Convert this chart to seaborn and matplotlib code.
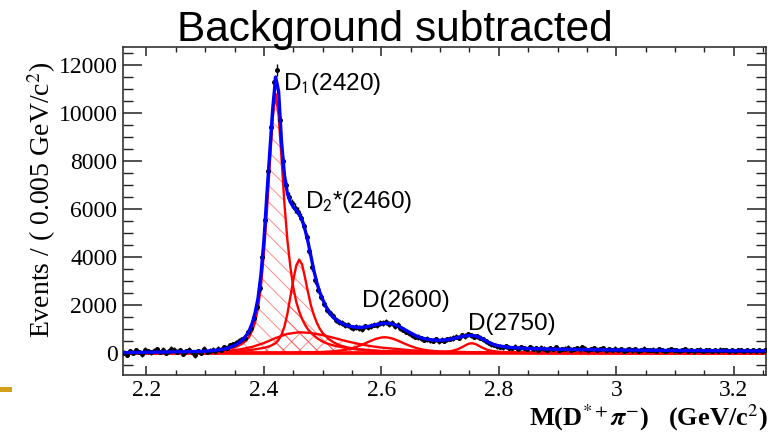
import numpy as np
import matplotlib
matplotlib.use("Agg")
import matplotlib.pyplot as plt
from matplotlib.ticker import MultipleLocator, FuncFormatter
from matplotlib.patches import Rectangle
import seaborn as sns

# ---------------- data ----------------
# histogram bins: 0.005 GeV wide, centres from 2.1625 to 3.2525
bin_start = 2.1625
bin_width = 0.005
counts = [
    30, -60, 80, 20, 120, 60, -40, 150, 90, 40,
    110, 180, 60, 140, 20, 90, 200, 150, 70, 120,
    -30, 80, 160, 40, -80, 100, 30, 190, 60, 110,
    150, 90, 200, 160, 250, 240, 330, 380, 450, 520,
    580, 660, 870, 1050, 1480, 1950, 2700, 4000, 5550, 7600,
    9400, 11300, 11800, 9700, 8000, 7000, 6500, 6250, 6050, 5900,
    5650, 5300, 4850, 4250, 3600, 3050, 2650, 2350, 2050, 1820,
    1680, 1550, 1400, 1320, 1250, 1180, 1180, 1080, 1060, 1100,
    1050, 1010, 1120, 1080, 1150, 1200, 1180, 1270, 1250, 1310,
    1220, 1250, 1150, 1170, 1050, 990, 900, 830, 770, 700,
    680, 620, 570, 600, 540, 520, 580, 510, 560, 520,
    580, 600, 640, 700, 660, 750, 720, 800, 760, 700,
    720, 650, 580, 500, 430, 380, 350, 300, 280, 250,
    300, 240, 220, 280, 200, 250, 230, 180, 260, 200,
    220, 160, 240, 200, 150, 210, 190, 250, 160, 180,
    200, 240, 150, 180, 220, 170, 260, 200, 140, 190,
    210, 160, 180, 230, 120, 170, 150, 200, 140, 180,
    110, 160, 190, 130, 170, 100, 150, 200, 120, 140,
    160, 110, 180, 130, 90, 150, 170, 120, 140, 100,
    130, 170, 110, 150, 80, 140, 160, 100, 120, 150,
    100, 140, 90, 160, 120, 130, 80, 150, 110, 140,
    120, 90, 150, 110, 130, 100, 140, 80, 120,
]
errors = [
    100, 95, 100, 105, 100, 95, 100, 105, 100, 95,
    100, 95, 100, 105, 100, 95, 100, 105, 100, 95,
    100, 95, 100, 105, 100, 95, 100, 105, 100, 95,
    100, 100, 102, 102, 104, 104, 106, 106, 108, 108,
    110, 115, 120, 125, 135, 145, 160, 175, 195, 215,
    235, 250, 255, 240, 220, 205, 195, 190, 188, 185,
    182, 178, 172, 165, 158, 150, 145, 140, 135, 130,
    128, 126, 124, 122, 120, 120, 120, 120, 120, 120,
    120, 120, 120, 120, 122, 122, 122, 124, 124, 124,
    124, 122, 120, 118, 116, 114, 112, 110, 110, 108,
    108, 106, 106, 106, 104, 104, 104, 104, 104, 104,
    104, 104, 106, 106, 106, 108, 108, 108, 108, 106,
    106, 106, 104, 104, 102, 100, 100, 100, 98, 98,
    98, 98, 96, 96, 96, 96, 96, 96, 96, 96,
    95, 95, 95, 95, 95, 95, 95, 95, 95, 95,
    95, 95, 95, 95, 95, 95, 95, 95, 95, 95,
    94, 94, 94, 94, 94, 94, 94, 94, 94, 94,
    94, 94, 94, 94, 94, 94, 94, 94, 94, 94,
    93, 93, 93, 93, 93, 93, 93, 93, 93, 93,
    93, 93, 93, 93, 93, 93, 93, 93, 93, 93,
    92, 92, 92, 92, 92, 92, 92, 92, 92, 92,
    92, 92, 92, 92, 92, 92, 92, 92, 92,
]

# total fit (blue)
tot_x = [2.16, 2.20, 2.24, 2.28, 2.30, 2.31, 2.32, 2.33, 2.34, 2.35,
         2.355, 2.36, 2.365, 2.37, 2.375, 2.38, 2.385, 2.39, 2.395, 2.40,
         2.405, 2.41, 2.415, 2.42, 2.425, 2.43, 2.435, 2.44, 2.445, 2.45,
         2.455, 2.46, 2.465, 2.47, 2.475, 2.48, 2.485, 2.49, 2.495, 2.50,
         2.505, 2.51, 2.515, 2.52, 2.53, 2.54, 2.55, 2.56, 2.57, 2.58,
         2.59, 2.60, 2.61, 2.62, 2.63, 2.64, 2.65, 2.66, 2.67, 2.68,
         2.69, 2.70, 2.71, 2.72, 2.73, 2.74, 2.75, 2.76, 2.77, 2.78,
         2.79, 2.80, 2.82, 2.85, 2.90, 2.95, 3.00, 3.10, 3.20, 3.255]
tot_y = [30, 45, 60, 75, 90, 110, 135, 170, 230, 330,
         400, 490, 600, 750, 950, 1250, 1700, 2300, 3300, 4700,
         6600, 8400, 10200, 11500, 10900, 8800, 7400, 6650, 6300, 6100,
         5950, 5800, 5550, 5150, 4650, 4050, 3450, 2950, 2550, 2250,
         1980, 1760, 1590, 1460, 1280, 1170, 1110, 1080, 1090, 1130,
         1190, 1240, 1260, 1220, 1120, 990, 850, 720, 630, 580,
         550, 545, 560, 600, 660, 720, 750, 730, 630, 490,
         380, 310, 245, 200, 170, 155, 140, 120, 105, 100]

# D1(2420) component (red, hatched)
d1_x = [2.16, 2.25, 2.30, 2.32, 2.34, 2.35, 2.355, 2.36, 2.365, 2.37, 2.375, 2.38,
        2.385, 2.39, 2.395, 2.40, 2.405, 2.41, 2.415, 2.42, 2.425, 2.43,
        2.435, 2.44, 2.445, 2.45, 2.455, 2.46, 2.465, 2.47, 2.475, 2.48,
        2.49, 2.50, 2.51, 2.52, 2.54, 2.56, 2.60, 2.65, 2.75, 3.255]
d1_y = [15, 40, 90, 130, 190, 250, 300, 360, 440, 540, 700, 950,
        1300, 1900, 2800, 4200, 5900, 7900, 9800, 10800, 9900, 8100,
        6200, 4700, 3600, 2750, 2150, 1750, 1430, 1190, 1000, 860,
        640, 490, 390, 320, 220, 160, 95, 60, 30, 10]

# D2*(2460) component (red, hatched)
d2_x = [2.16, 2.30, 2.36, 2.38, 2.40, 2.41, 2.42, 2.425, 2.43, 2.435,
        2.44, 2.445, 2.45, 2.455, 2.46, 2.465, 2.47, 2.475, 2.48, 2.485,
        2.49, 2.495, 2.50, 2.51, 2.52, 2.53, 2.54, 2.56, 2.60, 2.70, 3.255]
d2_y = [10, 40, 100, 150, 230, 300, 420, 560, 780, 1120,
        1650, 2350, 3050, 3650, 3900, 3700, 3150, 2550, 2000, 1600,
        1280, 1030, 850, 600, 440, 330, 260, 170, 90, 40, 10]

# broad component (red, cross-hatched)
br_x = [2.16, 2.30, 2.34, 2.36, 2.38, 2.40, 2.42, 2.44, 2.46, 2.48, 2.50,
        2.52, 2.54, 2.56, 2.58, 2.60, 2.65, 2.70, 2.80, 3.00, 3.255]
br_y = [10, 50, 110, 170, 270, 430, 640, 810, 880, 850, 760,
        640, 510, 400, 310, 240, 130, 75, 30, 12, 5]

# D(2600) component (red)
d3_x = [2.16, 2.45, 2.50, 2.52, 2.54, 2.55, 2.56, 2.57, 2.58, 2.59,
        2.60, 2.605, 2.61, 2.62, 2.63, 2.64, 2.65, 2.66, 2.67, 2.68,
        2.70, 2.75, 2.85, 3.255]
d3_y = [5, 30, 60, 90, 150, 210, 290, 390, 500, 600,
        660, 670, 665, 610, 510, 400, 300, 220, 160, 120,
        75, 35, 15, 5]

# D(2750) component (red)
d4_x = [2.16, 2.60, 2.68, 2.70, 2.71, 2.72, 2.73, 2.74, 2.745, 2.75,
        2.755, 2.76, 2.765, 2.77, 2.78, 2.79, 2.80, 2.82, 2.85, 2.95, 3.255]
d4_y = [3, 15, 30, 40, 60, 100, 170, 290, 360, 410,
        420, 390, 330, 260, 150, 95, 65, 40, 25, 12, 4]

# residual background level (red, flat)
bkg_x = [2.16, 3.255]
bkg_y = [0, 0]

peak_labels = [r"D$_{\mathsf{1}}$(2420)", r"D$_{\mathsf{2}}$*(2460)", "D(2600)", "D(2750)"]
peak_label_pos = [(2.432, 10960), (2.470, 6040), (2.567, 1917), (2.747, 958)]

title = "Background subtracted"
ylabel = r"Events / ( 0.005 GeV/c$^{2}$)"
xlabel = r"M(D$^{*+}\boldsymbol{\pi}^{-}$)   (GeV/c$^{2}$)"

# ---------------- drawing ----------------
sns.set_style("ticks")
plt.rcParams["font.family"] = ["Liberation Serif", "DejaVu Serif"]
plt.rcParams["mathtext.fontset"] = "stix"
plt.rcParams["hatch.linewidth"] = 0.7
for k in ["text.color", "axes.labelcolor", "xtick.labelcolor", "ytick.labelcolor"]:
    plt.rcParams[k] = "black"

mass = bin_start + bin_width * np.arange(len(counts))

fig = plt.figure(figsize=(7.79, 4.33), dpi=100)
ax = fig.add_axes([123 / 779, 1 - 375 / 433, (766 - 123) / 779, (375 - 47) / 433])

red = "#ff0000"
hatch_col = (1, 0.25, 0.25, 0.6)
ax.fill_between(d1_x, 0, d1_y, facecolor="none", edgecolor=hatch_col,
                hatch="\\\\", linewidth=0, zorder=1)
ax.fill_between(d2_x, 0, d2_y, facecolor="none", edgecolor=hatch_col,
                hatch="\\\\", linewidth=0, zorder=1)
ax.fill_between(br_x, 0, br_y, facecolor="none", edgecolor=hatch_col,
                hatch="//", linewidth=0, zorder=1)

for cx, cy in [(br_x, br_y), (d3_x, d3_y), (d4_x, d4_y), (d2_x, d2_y), (d1_x, d1_y)]:
    sns.lineplot(x=cx, y=cy, color=red, linewidth=1.7, ax=ax, zorder=2)
sns.lineplot(x=bkg_x, y=bkg_y, color=red, linewidth=2.6, ax=ax, zorder=2)

ax.errorbar(mass, counts, yerr=errors, xerr=bin_width / 2, fmt="none", ecolor="black",
            elinewidth=1.0, capsize=0, zorder=3)
sns.scatterplot(x=mass, y=counts, color="black", s=13, linewidth=0, ax=ax, zorder=4)

sns.lineplot(x=tot_x, y=tot_y, color="#0000ff", linewidth=2.4, ax=ax, zorder=5)

ax.set_xlim(2.16, 3.255)
ax.set_ylim(-900, 12750)

ax.xaxis.set_major_locator(MultipleLocator(0.2))
ax.xaxis.set_minor_locator(MultipleLocator(0.05))
ax.yaxis.set_major_locator(MultipleLocator(2000))
ax.yaxis.set_minor_locator(MultipleLocator(500))
ax.xaxis.set_major_formatter(FuncFormatter(lambda v, p: f"{v:g}"))
ax.yaxis.set_major_formatter(FuncFormatter(lambda v, p: f"{v:.0f}"))

ax.tick_params(axis="both", which="both", direction="in", top=True, right=True,
               colors="#222222", labelcolor="black")
ax.tick_params(axis="y", which="major", length=14, width=1.1, labelsize=17, pad=4)
ax.tick_params(axis="y", which="minor", length=7, width=1.0)
ax.tick_params(axis="x", which="major", length=6.5, width=1.1, labelsize=17, pad=3.5)
ax.tick_params(axis="x", which="minor", length=3.3, width=1.0)
for s in ax.spines.values():
    s.set_linewidth(1.2)
    s.set_color("#333333")
ax.set_xlabel("")
ax.set_ylabel("")

for lab, (lx, ly) in zip(peak_labels, peak_label_pos):
    ax.text(lx, ly, lab, fontsize=17.5, family=["Liberation Sans", "DejaVu Sans"],
            color="black", ha="left", va="baseline", zorder=6)

fig.text(395 / 779, 1 - 41 / 433, title, fontsize=30.5, color="black",
         family=["Liberation Sans", "DejaVu Sans"], ha="center", va="baseline")
fig.text(42 / 779, 1 - 200 / 433, ylabel, fontsize=20, color="black",
         rotation=90, ha="center", va="center")
fig.text(768 / 779, 1 - 425 / 433, xlabel, fontsize=19, fontweight="bold", color="black",
         ha="right", va="baseline")

fig.add_artist(Rectangle((0, 1 - 392 / 433), 12 / 779, 5 / 433, transform=fig.transFigure,
                         facecolor="#d4a017", edgecolor="none"))

fig.savefig("out.png", dpi=100)
